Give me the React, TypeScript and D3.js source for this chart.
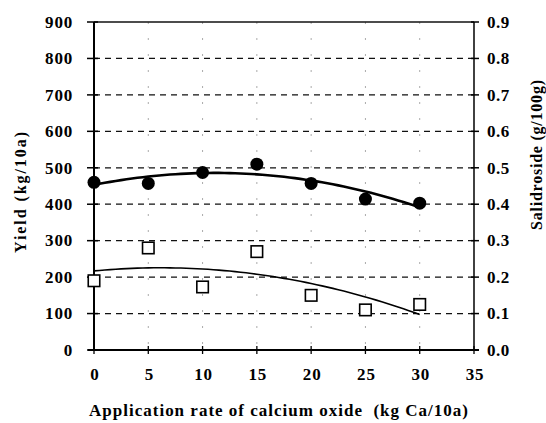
import React, { useEffect, useRef } from 'react';
import * as d3 from 'd3';

// values
const rates = [0, 5, 10, 15, 20, 25, 30];
const yieldVals = [460, 457, 487, 510, 457, 414, 403];
const salidroside = [0.19, 0.28, 0.173, 0.27, 0.15, 0.11, 0.125];
const xTicks = [0, 5, 10, 15, 20, 25, 30, 35];
const leftTicks = [0, 100, 200, 300, 400, 500, 600, 700, 800, 900];
const rightTicks = [0, 0.1, 0.2, 0.3, 0.4, 0.5, 0.6, 0.7, 0.8, 0.9];

// least squares 2nd order polynomial (the trend lines in the figure)
const quadFit = (xs: number[], ys: number[]) => {
  const s = (p: number) => d3.sum(xs, (x) => Math.pow(x, p));
  const t = (p: number) => d3.sum(xs, (x, i) => Math.pow(x, p) * ys[i]);
  const A = [
    [s(0), s(1), s(2), t(0)],
    [s(1), s(2), s(3), t(1)],
    [s(2), s(3), s(4), t(2)],
  ];
  // gauss elimination
  for (let i = 0; i < 3; i++) {
    for (let k = i + 1; k < 3; k++) {
      const f = A[k][i] / A[i][i];
      for (let j = i; j < 4; j++) A[k][j] -= f * A[i][j];
    }
  }
  const c = [0, 0, 0];
  for (let i = 2; i >= 0; i--) {
    let v = A[i][3];
    for (let j = i + 1; j < 3; j++) v -= A[i][j] * c[j];
    c[i] = v / A[i][i];
  }
  return (x: number) => c[0] + c[1] * x + c[2] * x * x;
};

const App = () => {
  const svgRef = useRef<SVGSVGElement>(null);

  useEffect(() => {
    const width = 546;
    const height = 423;
    const left = 94, right = 474, top = 22, bottom = 350;
    const font = 'Liberation Serif';

    const svg = d3.select(svgRef.current);
    svg.selectAll('*').remove();
    svg.attr('width', width).attr('height', height);

    svg.append('rect').attr('width', width).attr('height', height).attr('fill', '#fff');

    const x = d3.scaleLinear().domain([0, 35]).range([left, right]);
    const yL = d3.scaleLinear().domain([0, 900]).range([bottom, top]);
    const yR = d3.scaleLinear().domain([0, 0.9]).range([bottom, top]);

    // vertical faint grid
    svg.append('g')
      .selectAll('line')
      .data(xTicks.slice(1, -1))
      .enter()
      .append('line')
      .attr('x1', (d) => x(d)).attr('x2', (d) => x(d))
      .attr('y1', top).attr('y2', bottom)
      .attr('stroke', '#aaa')
      .attr('stroke-width', 1)
      .attr('stroke-dasharray', '2,14');

    // horizontal dashed grid
    svg.append('g')
      .selectAll('line')
      .data(leftTicks.slice(1, -1))
      .enter()
      .append('line')
      .attr('x1', left).attr('x2', right)
      .attr('y1', (d) => yL(d)).attr('y2', (d) => yL(d))
      .attr('stroke', '#111')
      .attr('stroke-width', 1.3)
      .attr('stroke-dasharray', '6,5');

    // frame
    svg.append('line').attr('x1', left).attr('x2', right).attr('y1', top).attr('y2', top)
      .attr('stroke', '#111').attr('stroke-width', 1.5);
    svg.append('line').attr('x1', right).attr('x2', right).attr('y1', top).attr('y2', bottom)
      .attr('stroke', '#111').attr('stroke-width', 1.6);
    svg.append('line').attr('x1', left).attr('x2', left).attr('y1', top).attr('y2', bottom)
      .attr('stroke', '#000').attr('stroke-width', 2);
    svg.append('line').attr('x1', left - 6).attr('x2', right + 5).attr('y1', bottom).attr('y2', bottom)
      .attr('stroke', '#000').attr('stroke-width', 2.2);

    // left axis ticks + labels
    const gl = svg.append('g');
    gl.selectAll('line').data(leftTicks).enter().append('line')
      .attr('x1', left - 7).attr('x2', left + 4)
      .attr('y1', (d) => yL(d)).attr('y2', (d) => yL(d))
      .attr('stroke', '#000').attr('stroke-width', 1.5);
    gl.selectAll('text').data(leftTicks).enter().append('text')
      .attr('x', left - 21).attr('y', (d) => yL(d))
      .attr('dy', '0.34em')
      .attr('text-anchor', 'end')
      .attr('font-family', font).attr('font-weight', 'bold').attr('font-size', 17)
      .attr('letter-spacing', 0.8)
      .text((d) => String(d));

    // right axis ticks + labels
    const gr = svg.append('g');
    gr.selectAll('line').data(rightTicks).enter().append('line')
      .attr('x1', right - 3).attr('x2', right + 5)
      .attr('y1', (d) => yR(d)).attr('y2', (d) => yR(d))
      .attr('stroke', '#000').attr('stroke-width', 1.5);
    gr.selectAll('text').data(rightTicks).enter().append('text')
      .attr('x', right + 13).attr('y', (d) => yR(d))
      .attr('dy', '0.34em')
      .attr('font-family', font).attr('font-weight', 'bold').attr('font-size', 17)
      .attr('letter-spacing', 0.5)
      .text((d) => d3.format('.1f')(d));

    // bottom ticks + labels
    const gb = svg.append('g');
    gb.selectAll('line').data(xTicks).enter().append('line')
      .attr('x1', (d) => x(d)).attr('x2', (d) => x(d))
      .attr('y1', bottom - 4).attr('y2', bottom + 4)
      .attr('stroke', '#000').attr('stroke-width', 1.3);
    gb.selectAll('text').data(xTicks).enter().append('text')
      .attr('x', (d) => x(d) + 1).attr('y', bottom + 30)
      .attr('text-anchor', 'middle')
      .attr('font-family', font).attr('font-weight', 'bold').attr('font-size', 17)
      .attr('letter-spacing', 0.8)
      .text((d) => String(d));

    // axis titles
    svg.append('text')
      .attr('x', 89).attr('y', 416)
      .attr('textLength', 379)
      .attr('lengthAdjust', 'spacing')
      .attr('font-family', font).attr('font-weight', 'bold').attr('font-size', 17)
      .attr('xml:space', 'preserve')
      .text('Application rate of calcium oxide  (kg Ca/10a)');

    svg.append('text')
      .attr('transform', `translate(26, 253) rotate(-90)`)
      .attr('textLength', 121)
      .attr('lengthAdjust', 'spacing')
      .attr('font-family', font).attr('font-weight', 'bold').attr('font-size', 16)
      .text('Yield (kg/10a)');

    svg.append('text')
      .attr('transform', `translate(542, 230) rotate(-90)`)
      .attr('textLength', 150)
      .attr('lengthAdjust', 'spacing')
      .attr('font-family', font).attr('font-weight', 'bold').attr('font-size', 16)
      .text('Salidroside (g/100g)');

    // trend lines
    const fitY = quadFit(rates, yieldVals);
    const fitS = quadFit(rates, salidroside);
    const xs = d3.range(0, 30.001, 0.5);

    svg.append('path')
      .datum(xs)
      .attr('fill', 'none')
      .attr('stroke', '#000')
      .attr('stroke-width', 2.6)
      .attr('d', d3.line<number>().x((d) => x(d)).y((d) => yL(fitY(d))));

    svg.append('path')
      .datum(xs)
      .attr('fill', 'none')
      .attr('stroke', '#000')
      .attr('stroke-width', 1.6)
      .attr('d', d3.line<number>().x((d) => x(d)).y((d) => yR(fitS(d))));

    // yield dots
    svg.append('g').selectAll('circle')
      .data(rates)
      .enter()
      .append('circle')
      .attr('cx', (d) => x(d))
      .attr('cy', (d, i) => yL(yieldVals[i]))
      .attr('r', 6.5)
      .attr('fill', '#000');

    // salidroside squares
    const sq = 11.5;
    svg.append('g').selectAll('rect')
      .data(rates)
      .enter()
      .append('rect')
      .attr('x', (d) => x(d) - sq / 2)
      .attr('y', (d, i) => yR(salidroside[i]) - sq / 2)
      .attr('width', sq).attr('height', sq)
      .attr('fill', '#fff')
      .attr('stroke', '#000')
      .attr('stroke-width', 1.6);
  }, []);

  return (
    <div style={{ position: 'absolute', left: 0, top: 0 }}>
      <svg ref={svgRef} style={{ display: 'block' }}></svg>
    </div>
  );
};

export default App;
